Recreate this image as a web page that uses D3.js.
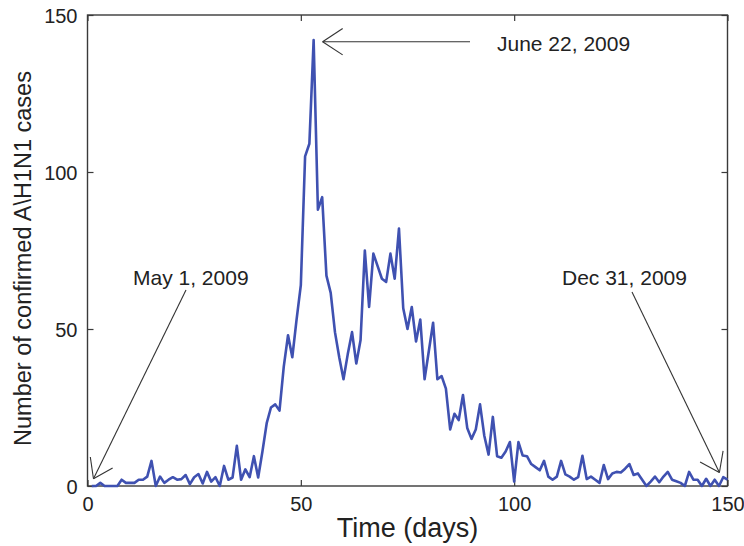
<!DOCTYPE html>
<html>
<head>
<meta charset="utf-8">
<script src="https://cdn.jsdelivr.net/npm/d3@7"></script>
<style>
  html, body { margin: 0; padding: 0; background: #fff; }
  svg { display: block; font-family: "Liberation Sans", Arial, sans-serif; }
</style>
</head>
<body>
<svg id="chart" width="744" height="546"></svg>
<script>
// Daily confirmed A\H1N1 cases, day 1 = May 1, 2009
const days = d3.range(1, 151);
const cases = [
  0, 0, 1, 0, 0, 0, 0, 2, 1, 1,
  1, 2, 2, 3, 8, 0, 3, 1, 2, 2.8,
  2, 2.2, 3.5, 0.6, 2.8, 3.8, 0.8, 4.5, 1.4, 2.8,
  0, 6.4, 2, 2.7, 12.8, 2, 5.3, 2.8, 9.5, 2.7,
  11, 20, 25, 26, 24, 38, 48, 41, 53, 64,
  105, 109, 142, 88, 92, 67, 61.5, 49, 41, 34,
  42, 49, 39, 46.5, 75, 57, 74, 70, 66, 65,
  74, 66, 82, 56.6, 50, 57, 46, 53, 34, 43,
  52, 34, 35, 31, 18, 23, 21, 29, 18.5, 15,
  18, 26, 16, 10, 22, 9.5, 9, 11, 14, 1.4,
  14, 9.7, 9.5, 7, 6, 5, 8, 3, 2, 3,
  8, 3.7, 3, 2, 2.8, 9.6, 2.2, 3, 2, 1,
  6.7, 2.2, 4, 4.5, 4.3, 5.5, 7, 3.5, 4, 2,
  0, 1.4, 3, 1.2, 3, 4.5, 2, 1.5, 1, 0,
  4.5, 2, 2, 0, 2.3, 0, 2, 0, 2.8, 2
];
const xTicks = [0, 50, 100, 150];
const yTicks = [0, 50, 100, 150];
const xTitle = "Time (days)";
const yTitle = "Number of confirmed A" + String.fromCharCode(92) + "H1N1 cases";

// Annotated dates: day index, value at the arrow tip, label
const notes = [
  { label: "May 1, 2009",   day: 1.4,   value: 2.3 },
  { label: "June 22, 2009", day: 55.1,  value: 141.5 },
  { label: "Dec 31, 2009",  day: 148.1, value: 4.3 }
];

const svg = d3.select("#chart");
const plotL = 87.5, plotR = 727.5, plotT = 15, plotB = 486;

const x = d3.scaleLinear().domain([0, 150]).range([plotL, plotR]);
const y = d3.scaleLinear().domain([0, 150]).range([plotB, plotT]);

const axisColor = "#3a3a3a";
const tickLen = 6;

// Frame box
svg.append("rect")
  .attr("x", plotL).attr("y", plotT)
  .attr("width", plotR - plotL).attr("height", plotB - plotT)
  .attr("fill", "none").attr("stroke", axisColor).attr("stroke-width", 1.4);

// Axes with inward ticks on all four sides
const fmt = d3.format("d");
const gx = svg.append("g").attr("transform", `translate(0,${plotB})`)
  .call(d3.axisBottom(x).tickValues(xTicks).tickFormat(fmt).tickSize(-tickLen).tickPadding(10));
const gxTop = svg.append("g").attr("transform", `translate(0,${plotT})`)
  .call(d3.axisTop(x).tickValues(xTicks).tickFormat("").tickSize(-tickLen));
const gy = svg.append("g").attr("transform", `translate(${plotL},0)`)
  .call(d3.axisLeft(y).tickValues(yTicks).tickFormat(fmt).tickSize(-tickLen).tickPadding(10));
const gyRight = svg.append("g").attr("transform", `translate(${plotR},0)`)
  .call(d3.axisRight(y).tickValues(yTicks).tickFormat("").tickSize(-tickLen));

[gx, gxTop, gy, gyRight].forEach(g => {
  g.select(".domain").remove();
  g.selectAll(".tick line").attr("stroke", axisColor).attr("stroke-width", 1.2);
  g.selectAll(".tick text")
    .attr("fill", "#222")
    .style("font-family", "'Liberation Sans', Arial, sans-serif")
    .style("font-size", "20px");
});
gx.selectAll(".tick text").attr("dy", "0.75em");
gy.selectAll(".tick text").attr("dy", "0.36em");

// Axis titles
svg.append("text")
  .attr("x", (plotL + plotR) / 2).attr("y", 537)
  .attr("text-anchor", "middle")
  .style("font-size", "27px").attr("fill", "#222")
  .text(xTitle);

svg.append("text")
  .attr("transform", `translate(31,${(plotT + plotB) / 2 + 8}) rotate(-90)`)
  .attr("text-anchor", "middle")
  .style("font-size", "23.5px").attr("fill", "#222")
  .text(yTitle);

// Case series
const line = d3.line()
  .x((d, i) => x(days[i]))
  .y(d => y(d));

svg.append("path")
  .datum(cases)
  .attr("d", line)
  .attr("fill", "none")
  .attr("stroke", "#3f51b1")
  .attr("stroke-width", 2.6)
  .attr("stroke-linejoin", "round");

// Annotation arrows and labels
const ann = svg.append("g").attr("stroke", "#333").attr("stroke-width", 1.1).attr("fill", "none");

function arrow(x0, y0, x1, y1, head, spread) {
  ann.append("line").attr("x1", x0).attr("y1", y0).attr("x2", x1).attr("y2", y1);
  const ang = Math.atan2(y0 - y1, x0 - x1);
  [-spread, spread].forEach(a => {
    ann.append("line")
      .attr("x1", x1).attr("y1", y1)
      .attr("x2", x1 + head * Math.cos(ang + a))
      .attr("y2", y1 + head * Math.sin(ang + a));
  });
}

const tipMay = [x(notes[0].day), y(notes[0].value)];
const tipJune = [x(notes[1].day), y(notes[1].value)];
const tipDec = [x(notes[2].day), y(notes[2].value)];

arrow(186, 290, tipMay[0], tipMay[1], 22, 0.6);
arrow(470, tipJune[1], tipJune[0], tipJune[1], 24, 0.58);
arrow(632, 292, tipDec[0], tipDec[1], 22, 0.62);

const labelStyle = sel => sel.style("font-size", "21px").attr("fill", "#222");
svg.append("text").attr("x", 133).attr("y", 285).text(notes[0].label).call(labelStyle);
svg.append("text").attr("x", 497).attr("y", 51).text(notes[1].label).call(labelStyle);
svg.append("text").attr("x", 562).attr("y", 285).text(notes[2].label).call(labelStyle);
</script>
</body>
</html>
